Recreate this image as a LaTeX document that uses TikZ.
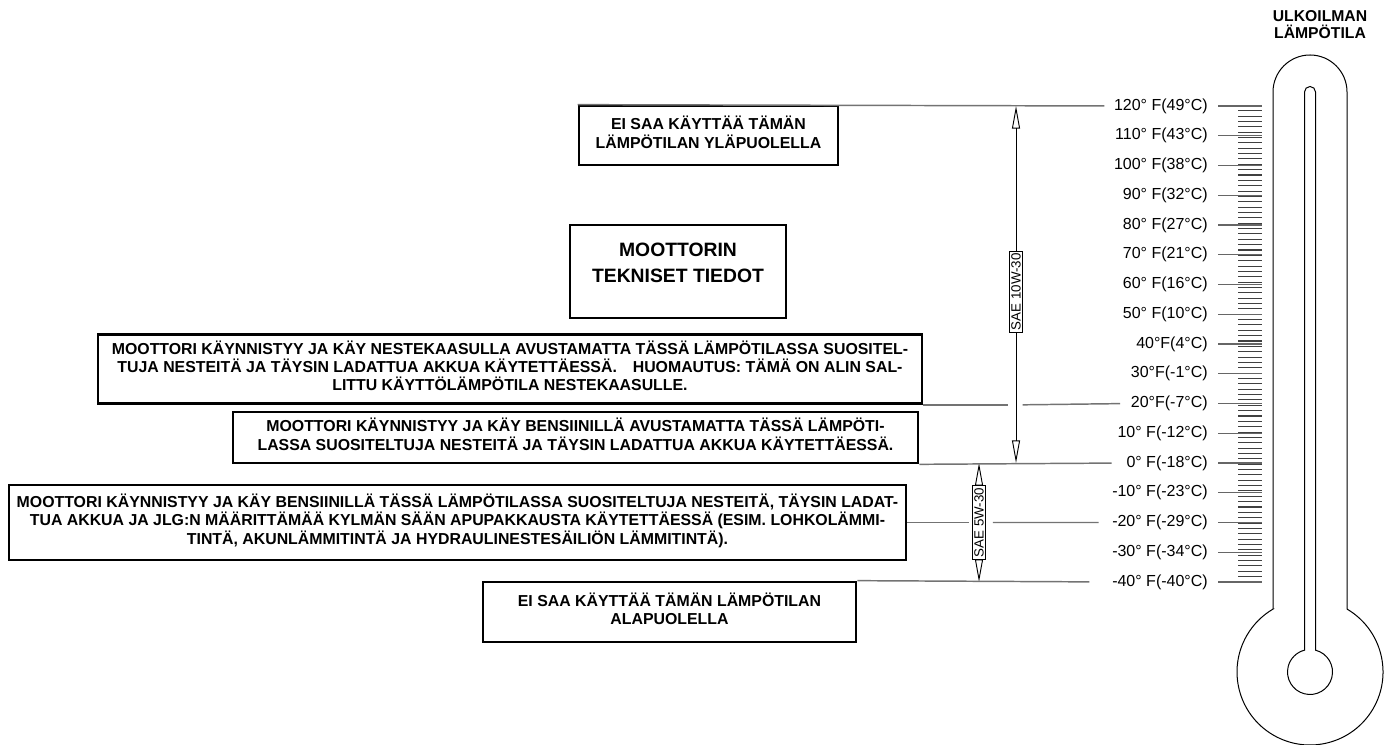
\documentclass[tikz,border=0pt]{standalone}
\usepackage{fontspec}
\setmainfont{Liberation Sans}
\usetikzlibrary{arrows.meta,positioning,calc}
\newcommand{\dg}{°}
\begin{document}
\begin{tikzpicture}[x=0.75pt, y=0.75pt,
    box/.style={draw, line width=2pt, align=center, inner sep=0pt, text depth=5pt, font=\bfseries\fontsize{11.9}{13.7}\selectfont},
    level/.style={draw=black!55, line width=1.1pt, shorten >=7pt},
    outline/.style={line width=0.75pt},
    tlabel/.style={anchor=east, inner sep=0pt, font=\fontsize{12}{14}\selectfont},
    major/.style={draw=black!60, line width=1pt},
    minor/.style={draw=black!75, line width=0.8pt},
    sae/.style={line width=0.7pt, {Triangle[open,length=17pt,width=6pt]}-{Triangle[open,length=17pt,width=6pt]}},
    saelbl/.style={draw, fill=white, rotate=90, inner sep=1.5pt, line width=0.7pt, font=\fontsize{10}{12}\selectfont}]
    \useasboundingbox (0,0) rectangle (1384,745);

    \node[align=center, font=\bfseries\fontsize{11.8}{12.75}\selectfont] (thermo) at (1320,720) {ULKOILMAN\\LÄMPÖTILA};
    \draw[outline] (1273,135.93) -- (1273,653) arc[start angle=180, end angle=0, radius=37]
        -- (1347,135.93) arc[start angle=59.55, end angle=-239.55, radius=73] -- cycle;
    \draw[outline] (1315.5,653) -- (1315.5,94.82) arc[start angle=75.85, end angle=-255.85, radius=22.5]
        -- (1304.5,653) arc[start angle=180, end angle=0, radius=5.5] -- cycle;

    \foreach \c in {-40,...,49}
        \draw[minor] (1238,{163+(1.8*\c+72)*2.975}) -- (1262,{163+(1.8*\c+72)*2.975});
    \foreach \f/\txt in {120/{120\dg\ F(49\dg C)}, 110/{110\dg\ F(43\dg C)}, 100/{100\dg\ F(38\dg C)},
        90/{90\dg\ F(32\dg C)}, 80/{80\dg\ F(27\dg C)}, 70/{70\dg\ F(21\dg C)}, 60/{60\dg\ F(16\dg C)},
        50/{50\dg\ F(10\dg C)}, 40/{40\dg F(4\dg C)}, 30/{30\dg F(-1\dg C)}, 20/{20\dg F(-7\dg C)},
        10/{10\dg\ F(-12\dg C)}, 0/{0\dg\ F(-18\dg C)}, -10/{-10\dg\ F(-23\dg C)}, -20/{-20\dg\ F(-29\dg C)},
        -30/{-30\dg\ F(-34\dg C)}, -40/{-40\dg\ F(-40\dg C)}} {
        \node[tlabel] (t\f) at (1208,{163+(\f+40)*2.975}) {\txt};
        \draw[major] (1218,{163+(\f+40)*2.975}) -- (1262,{163+(\f+40)*2.975});
    }

    \node[box, minimum width=0.75*259, minimum height=0.75*59] (hi) at (708.5,609.5) {EI SAA KÄYTTÄÄ TÄMÄN\\LÄMPÖTILAN YLÄPUOLELLA};
    \node[box, minimum width=0.75*216, minimum height=0.75*93, text depth=13pt, font=\bfseries\fontsize{14.5}{19}\selectfont] (spec) at (678,473.5) {MOOTTORIN\\TEKNISET TIEDOT};
    \node[box, minimum width=0.75*824, minimum height=0.75*69] (lpg) at (510,376) {MOOTTORI KÄYNNISTYY JA KÄY NESTEKAASULLA AVUSTAMATTA TÄSSÄ LÄMPÖTILASSA SUOSITEL-\\TUJA NESTEITÄ JA TÄYSIN LADATTUA AKKUA KÄYTETTÄESSÄ.\quad HUOMAUTUS: TÄMÄ ON ALIN SAL-\\LITTU KÄYTTÖLÄMPÖTILA NESTEKAASULLE.};
    \node[box, minimum width=0.75*685, minimum height=0.75*51] (gas) at (575.5,307.5) {MOOTTORI KÄYNNISTYY JA KÄY BENSIINILLÄ AVUSTAMATTA TÄSSÄ LÄMPÖTI-\\LASSA SUOSITELTUJA NESTEITÄ JA TÄYSIN LADATTUA AKKUA KÄYTETTÄESSÄ.};
    \node[box, minimum width=0.75*897, minimum height=0.75*75] (cold) at (457.5,222.5) {MOOTTORI KÄYNNISTYY JA KÄY BENSIINILLÄ TÄSSÄ LÄMPÖTILASSA SUOSITELTUJA NESTEITÄ, TÄYSIN LADAT-\\TUA AKKUA JA JLG:N MÄÄRITTÄMÄÄ KYLMÄN SÄÄN APUPAKKAUSTA KÄYTETTÄESSÄ (ESIM. LOHKOLÄMMI-\\TINTÄ, AKUNLÄMMITINTÄ JA HYDRAULINESTESÄILIÖN LÄMMITINTÄ).};
    \node[box, minimum width=0.75*373, minimum height=0.75*60] (lo) at (669.5,133) {EI SAA KÄYTTÄÄ TÄMÄN LÄMPÖTILAN\\ALAPUOLELLA};

    \coordinate (a10top) at (1016,639);
    \coordinate (a10bot) at (1016,282);
    \coordinate (a5top) at (979,282);
    \coordinate (a5bot) at (979,163);
    \draw[sae] (a10bot) -- (a10top) node[saelbl, pos=0.48] (s10) {SAE 10W-30};
    \draw[sae] (a5bot) -- (a5top) node[saelbl, midway] (s5) {SAE 5W-30};

    \draw[level] (hi.north west) -- (t120.west);
    \draw[level, shorten >=0pt] (lpg.south east) -- ([xshift=-6pt]a10top |- lpg.south east);
    \draw[level, shorten >=8pt] ([xshift=5pt]a10top |- lpg.south east) -- (t20.west);
    \draw[level, shorten >=11pt] (gas.south east) -- (t0.west);
    \draw[level, shorten >=2pt] (cold.east) -- (s5.north);
    \draw[level, shorten <=5pt, shorten >=10pt] (s5.south) -- (t-20.west);
    \draw[level, shorten >=17pt] (lo.north east) -- (t-40.west);
\end{tikzpicture}
\end{document}
